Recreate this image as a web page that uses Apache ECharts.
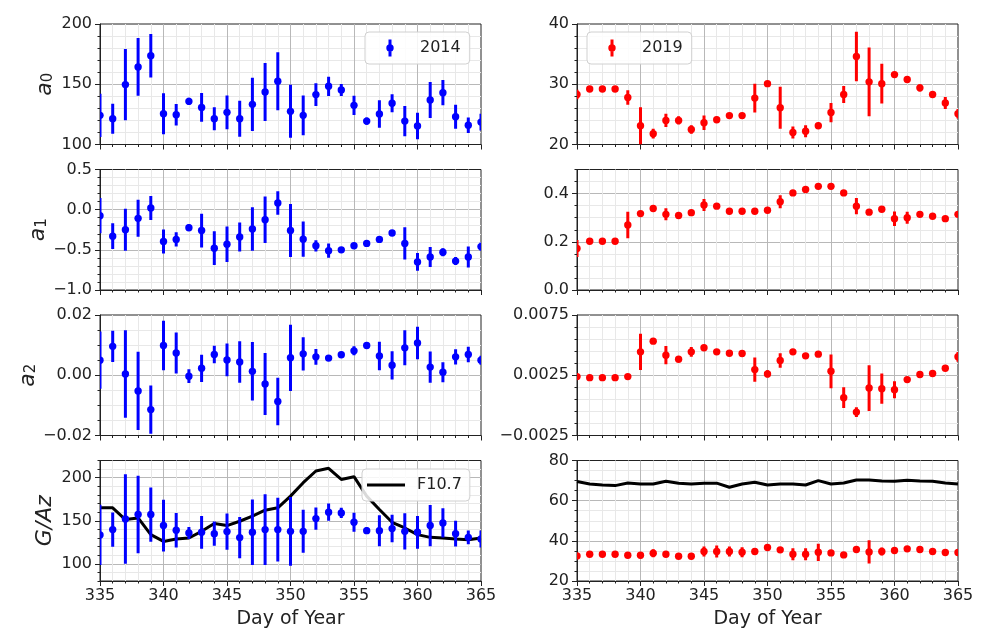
<!DOCTYPE html>
<html><head><meta charset="utf-8">
<script src="https://cdn.jsdelivr.net/npm/echarts@6/dist/echarts.min.js"></script>
<style>html,body{margin:0;padding:0;background:#fff}#c{width:983px;height:630px}</style>
</head><body><div id="c"></div><script>
// ---------------- data ----------------
const days = [335,336,337,338,339,340,341,342,343,344,345,346,347,348,349,350,351,352,353,354,355,356,357,358,359,360,361,362,363,364,365];

const a0_2014     = [124.2,121.4,149.7,164.4,173.6,125.6,124.7,135.8,130.8,121.4,126.7,121.4,133.3,143.6,152.5,127.5,124.2,141.4,148.3,145.3,132.5,119.4,125.3,134.2,119.4,115.3,136.9,143.0,123.0,116.0,118.6];
const a0_2014_err = [18,12.5,29.6,24,18,17,9,3,12,9.5,14,15,22,24,24,22,16.5,9.5,8,5,8,3,11.5,7.5,12.5,11,15,10.5,10,6.5,7];
const a0_2019     = [28.3,29.2,29.2,29.2,27.8,23.1,21.8,24.0,24.0,22.5,23.6,24.1,24.8,24.8,27.7,30.1,26.1,22.0,22.2,23.1,25.3,28.3,34.6,30.4,30.1,31.6,30.8,29.4,28.3,26.9,25.1];
const a0_2019_err = [0.8,0.5,0.5,0.5,1.2,3.1,0.8,1.1,0.7,0.7,1.2,0.5,0.3,0.3,2.4,0.3,3.5,1,1,0.5,1.6,1.4,4.1,5.7,3.3,0.3,0.3,0.6,0.3,1,0.8];

const a1_2014     = [-0.075,-0.33,-0.25,-0.108,0.02,-0.396,-0.37,-0.225,-0.26,-0.48,-0.43,-0.34,-0.24,-0.125,0.083,-0.26,-0.367,-0.45,-0.51,-0.5,-0.45,-0.42,-0.37,-0.29,-0.42,-0.65,-0.59,-0.53,-0.64,-0.59,-0.46];
const a1_2014_err = [0.22,0.16,0.26,0.23,0.15,0.15,0.09,0.04,0.21,0.21,0.22,0.18,0.27,0.29,0.145,0.33,0.22,0.07,0.09,0.03,0.03,0.02,0.02,0.03,0.2,0.11,0.125,0.05,0.05,0.13,0.05];
const a1_2019     = [0.172,0.202,0.202,0.202,0.27,0.317,0.338,0.314,0.309,0.321,0.353,0.348,0.327,0.327,0.327,0.331,0.366,0.403,0.417,0.43,0.43,0.403,0.348,0.323,0.335,0.296,0.3,0.314,0.306,0.296,0.314];
const a1_2019_err = [0.035,0.005,0.005,0.005,0.055,0.01,0.01,0.025,0.01,0.01,0.025,0.01,0.005,0.005,0.005,0.008,0.027,0.005,0.005,0.008,0.008,0.008,0.034,0.008,0.008,0.03,0.025,0.008,0.005,0.005,0.01];

const a2_2014     = [0.005,0.0096,0.0004,-0.0052,-0.0114,0.0099,0.0074,-0.0003,0.0023,0.0069,0.0051,0.0044,0.0013,-0.0029,-0.0087,0.0058,0.0071,0.0061,0.0057,0.0068,0.0081,0.0099,0.0064,0.0033,0.0091,0.0107,0.0027,0.001,0.0061,0.0069,0.005];
const a2_2014_err = [0.0095,0.0052,0.0145,0.013,0.008,0.0082,0.0068,0.0023,0.0045,0.0029,0.0054,0.0069,0.0097,0.0103,0.0079,0.011,0.0055,0.0026,0.001,0.001,0.0015,0.001,0.0047,0.0047,0.0058,0.0054,0.0052,0.0033,0.0025,0.0026,0.0015];
const a2_2019     = [0.00239,0.0023,0.0023,0.0023,0.00239,0.00444,0.00533,0.00417,0.00383,0.00444,0.00478,0.00444,0.00433,0.0043,0.00297,0.00261,0.00372,0.00444,0.00411,0.00425,0.00283,0.00064,-0.00056,0.00144,0.00139,0.0013,0.00214,0.00256,0.00264,0.00308,0.00403];
const a2_2019_err = [0.0002,0.0002,0.0002,0.0002,0.0002,0.0015,0.0002,0.00076,0.0002,0.0004,0.0002,0.0002,0.0002,0.0002,0.001,0.0003,0.0006,0.0002,0.0002,0.0002,0.0014,0.00086,0.0004,0.0019,0.00125,0.0007,0.0002,0.0002,0.0002,0.0002,0.0004];

const gaz_2014     = [133.5,139.7,152.1,157.2,157.2,144.4,138.9,135.8,136.6,135,137.4,130.4,136.6,139.7,139.7,137.7,137.7,152.5,159.9,159.1,148.2,138.5,138.5,140.9,137.7,136.6,144.4,147.5,135,130.7,128.8];
const gaz_2014_err = [35,20,52,45,31.5,30,20,7,19,14,21,24,38,41,37,40,25,13,10,6,11,4,18,16,21,19,24,17,15,8,10];
const f107_2014    = [165,165,151.4,153.3,133.9,126,128.8,130,137.7,146.7,144.4,149.4,155.3,162.3,165,178.6,194.2,207.8,210.9,198,201.2,178.6,163,148.2,141.6,133.9,130.7,130,128.8,128,130];
const gaz_2019     = [32.5,33.3,33.3,33.3,32.8,32.8,33.8,33.3,32.3,32.3,34.7,34.7,34.7,34.3,34.7,36.7,35.5,33.3,33.3,34.3,34,33,35.7,34.5,34.7,35.2,36,35.7,34.7,34.2,34.2];
const gaz_2019_err = [0.5,0.5,0.5,0.5,0.5,1.5,2,0.5,1,1.5,2.5,3,2.5,2.5,0.5,0.5,0.5,3,3,4.3,0.5,0.5,0.5,5.8,2,0.5,0.5,1,1.5,0.5,1];
const f107_2019    = [69.5,68.3,67.8,67.5,68.8,68.3,68.3,69.7,68.7,68.3,68.7,68.7,66.7,68.3,69.2,67.8,68.3,68.3,67.8,70,68.3,68.8,70.3,70.3,69.8,69.7,70.2,69.8,69.7,68.8,68.3];

const legendNames = ['2014', '2019', 'F10.7'];
const xTitle = 'Day of Year';

// ---------------- layout / style ----------------
const FONT = 'DejaVu Sans';
const BLUE = '#0000ff', RED = '#ff0000';
const MAJ = '#b8b8b8', MINC = '#e8e8e8', INK = '#222';
const LEFTS = [100, 577], W = 381, TOPS = [24, 169.5, 315, 460.5], H = 120.5;

const panels = [
  {col:0,row:0,vals:a0_2014,errs:a0_2014_err,color:BLUE,min:100,max:200,interval:50,minor:10,dec:0,name:'{i|a}{s|0}',sname:legendNames[0]},
  {col:1,row:0,vals:a0_2019,errs:a0_2019_err,color:RED,min:20,max:40,interval:10,minor:2,dec:0,sname:legendNames[1]},
  {col:0,row:1,vals:a1_2014,errs:a1_2014_err,color:BLUE,min:-1,max:0.5,interval:0.5,minor:0.1,dec:1,name:'{i|a}{s|1}'},
  {col:1,row:1,vals:a1_2019,errs:a1_2019_err,color:RED,min:0,max:0.5,interval:0.2,minor:0.05,dec:1,hideMax:true},
  {col:0,row:2,vals:a2_2014,errs:a2_2014_err,color:BLUE,min:-0.02,max:0.02,interval:0.02,minor:0.005,dec:2,name:'{i|a}{s|2}'},
  {col:1,row:2,vals:a2_2019,errs:a2_2019_err,color:RED,min:-0.0025,max:0.0075,interval:0.005,minor:0.001,dec:4},
  {col:0,row:3,vals:gaz_2014,errs:gaz_2014_err,color:BLUE,min:80,max:220,splitNumber:3,minor:10,dec:0,name:'{i|G/Az}',hideMin:true,hideMax:true,line:f107_2014,lname:legendNames[2]},
  {col:1,row:3,vals:gaz_2019,errs:gaz_2019_err,color:RED,min:20,max:80,interval:20,minor:5,dec:0,line:f107_2019,lname:'F10.7 (2019)'}
];

function fmt(dec) {
  return function (v) {
    if (Math.abs(v) < 1e-12) v = 0;
    return v.toFixed(dec).replace('-', '\u2212');
  };
}

function errRender(params, api) {
  const x = api.value(0), y = api.value(1), e = api.value(2);
  const c = api.coord([x, y]);
  const t = api.coord([x, y + e]);
  const b = api.coord([x, y - e]);
  const cs = params.coordSys;
  const color = api.visual('color');
  return {
    type: 'group',
    clipPath: {type: 'rect', shape: {x: cs.x, y: cs.y, width: cs.width, height: cs.height}},
    children: [
      {type: 'line', shape: {x1: c[0], y1: t[1], x2: c[0], y2: b[1]}, style: {stroke: color, lineWidth: 3}},
      {type: 'circle', shape: {cx: c[0], cy: c[1], r: 3.7}, style: {fill: color}}
    ]
  };
}

const grids = [], xAxes = [], yAxes = [], series = [];
panels.forEach(function (p, i) {
  grids.push({left: LEFTS[p.col], top: TOPS[p.row], width: W, height: H, show: true, borderColor: INK, borderWidth: 1});
  const bottom = p.row === 3;
  xAxes.push({
    gridIndex: i, type: 'value', min: 335, max: 365, interval: 5, position: 'bottom',
    axisLine: {show: true, onZero: false, lineStyle: {color: INK, width: 1}},
    axisTick: {show: true, length: 5, lineStyle: {color: INK}},
    minorTick: {show: true, splitNumber: 5, length: 2.5, lineStyle: {color: INK}},
    splitLine: {show: true, showMinLine: false, showMaxLine: false, lineStyle: {color: MAJ, width: 1}},
    minorSplitLine: {show: true, lineStyle: {color: MINC, width: 1}},
    axisLabel: {show: bottom, fontSize: 16, color: INK, fontFamily: FONT, margin: 7},
    name: bottom ? xTitle : '', nameLocation: 'middle', nameGap: 29,
    nameTextStyle: {fontSize: 19, color: INK, fontFamily: FONT}
  });
  // minor y axis (light grid + short ticks)
  yAxes.push({
    gridIndex: i, type: 'value', position: 'left', offset: 0, min: p.min, max: p.max, interval: p.minor,
    axisLine: {show: false, onZero: false}, axisLabel: {show: false},
    axisTick: {show: true, length: 2.5, lineStyle: {color: INK}},
    splitLine: {show: true, showMinLine: false, showMaxLine: false, lineStyle: {color: MINC, width: 1}}
  });
  // major y axis
  const major = {
    gridIndex: i, type: 'value', position: 'left', offset: 0, min: p.min, max: p.max,
    axisLine: {show: true, onZero: false, lineStyle: {color: INK, width: 1}},
    axisTick: {show: true, length: 5, lineStyle: {color: INK}},
    splitLine: {show: true, showMinLine: false, showMaxLine: false, lineStyle: {color: MAJ, width: 1}},
    axisLabel: {fontSize: 16, color: INK, fontFamily: FONT, margin: 8, formatter: fmt(p.dec),
                showMinLabel: !p.hideMin, showMaxLabel: !p.hideMax},
    name: p.name || '', nameLocation: 'middle', nameRotate: 90, nameGap: 44,
    nameTextStyle: {
      color: INK, fontFamily: FONT,
      rich: {
        i: {fontSize: 22, fontStyle: 'italic', fontFamily: FONT, color: INK},
        s: {fontSize: 15, fontFamily: FONT, color: INK, verticalAlign: 'bottom'}
      }
    }
  };
  if (p.interval !== undefined) major.interval = p.interval; else major.splitNumber = p.splitNumber;
  yAxes.push(major);

  if (p.line) {
    series.push({
      type: 'line', name: p.lname, xAxisIndex: i, yAxisIndex: 2 * i + 1,
      data: days.map(function (d, k) { return [d, p.line[k]]; }),
      showSymbol: false, symbol: 'none', lineStyle: {color: '#000', width: 3},
      itemStyle: {color: '#000'}, z: 2, animation: false, silent: true
    });
  }
  series.push({
    type: 'custom', name: p.sname || ('panel' + i), xAxisIndex: i, yAxisIndex: 2 * i + 1,
    data: days.map(function (d, k) { return [d, p.vals[k], p.errs[k]]; }),
    encode: {x: 0, y: 1}, renderItem: errRender, itemStyle: {color: p.color},
    z: 3, animation: false, silent: true
  });
});

const EB_ICON = 'path://M0,0L0,0ZM13.5,0L16.5,0L16.5,17L13.5,17ZM11.3,8.5A3.7,3.7,0,1,1,18.7,8.5A3.7,3.7,0,1,1,11.3,8.5ZM40,17L40,17Z';
const LN_ICON = 'path://M0,0L38,0L38,3L0,3ZM45,0L45,0Z';
const legendBase = {
  orient: 'horizontal', selectedMode: false,
  backgroundColor: 'rgba(255,255,255,0.85)', borderColor: '#d0d0d0', borderWidth: 1, borderRadius: 4,
  textStyle: {fontSize: 16, color: INK, fontFamily: FONT, lineHeight: 18}
};
const legends = [
  Object.assign({}, legendBase, {data: [{name: legendNames[0], icon: EB_ICON}], left: 365, top: 32, itemWidth: 40, itemHeight: 17, padding: [7, 9, 7, 10]}),
  Object.assign({}, legendBase, {data: [{name: legendNames[1], icon: EB_ICON}], left: 587, top: 32, itemWidth: 40, itemHeight: 17, padding: [7, 9, 7, 10]}),
  Object.assign({}, legendBase, {data: [{name: legendNames[2], icon: LN_ICON}], left: 362, top: 469, itemWidth: 45, itemHeight: 3, padding: [7, 8, 7, 5]})
];

const chart = echarts.init(document.getElementById('c'), null, {renderer: 'canvas'});
chart.setOption({
  animation: false,
  backgroundColor: '#fff',
  grid: grids, xAxis: xAxes, yAxis: yAxes, legend: legends, series: series
});
</script></body></html>
